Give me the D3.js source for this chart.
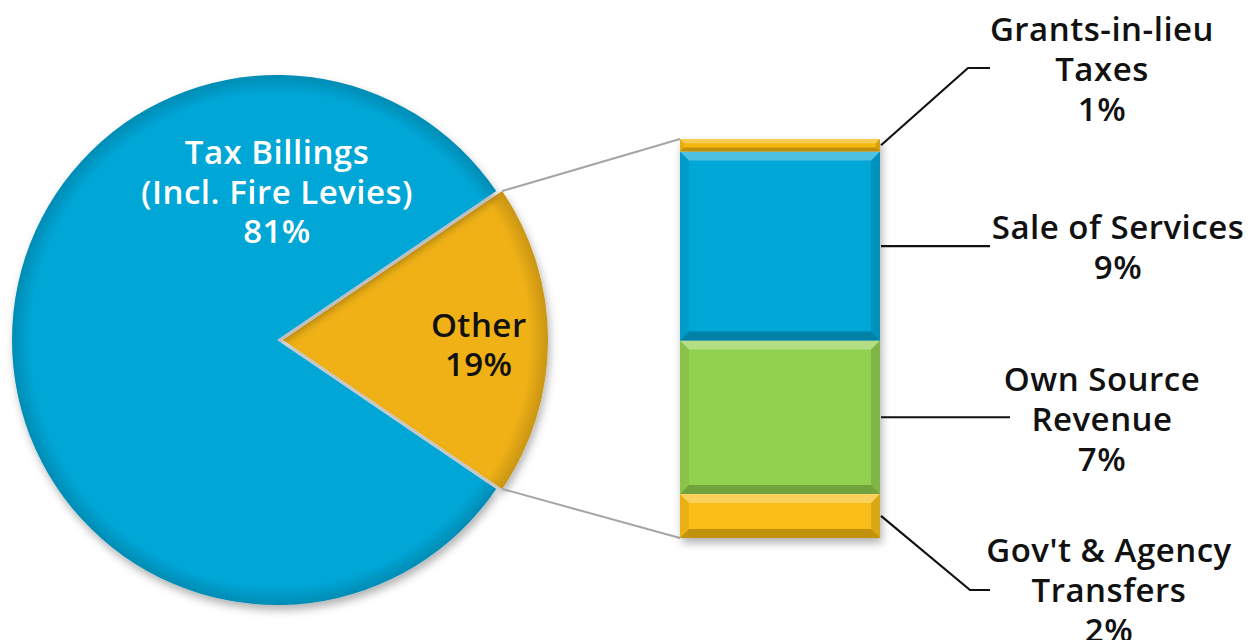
<!DOCTYPE html>
<html>
<head>
<meta charset="utf-8">
<script src="https://cdn.jsdelivr.net/npm/d3@7"></script>
<style>
    body { margin: 0; background: #fff; }
    text { font-family: "Open Sans", "DejaVu Sans", sans-serif; font-weight: 600; font-size: 33px; letter-spacing: 0.5px; }
</style>
</head>
<body>
<script>
// pie: the two top level parts of revenue
var pieNames = ["Other", "Tax Billings"];
var pieValues = [19, 81];
var pieLabels = [["Other", "19%"], ["Tax Billings", "(Incl. Fire Levies)", "81%"]];

// bar: the "Other" part broken down, listed bottom to top
var barNames = ["Gov't & Agency Transfers", "Own Source Revenue", "Sale of Services", "Grants-in-lieu Taxes"];
var barValues = [2.1, 7.3, 9.0, 0.6];
var barLabels = [["Gov't & Agency", "Transfers", "2%"], ["Own Source", "Revenue", "7%"], ["Sale of Services", "9%"], ["Grants-in-lieu", "Taxes", "1%"]];

var pieColors = { "Other": "#efb114", "Tax Billings": "#05a6d6" };
var barColors = ["#f8bd16", "#92d04f", "#05a6d6", "#f5b80f"];

var svg = d3.select("body").append("svg")
    .attr("width", 1256)
    .attr("height", 640);

var defs = svg.append("defs");

var shadow = defs.append("filter").attr("id", "shadow")
    .attr("x", "-10%").attr("y", "-10%").attr("width", "120%").attr("height", "125%");
shadow.append("feDropShadow")
    .attr("dx", 2).attr("dy", 5).attr("stdDeviation", 4)
    .attr("flood-color", "#000").attr("flood-opacity", 0.3);

var r = 265,
    cy = 340,
    cx = 277,
    explode = 6;

var rim = defs.append("radialGradient").attr("id", "rim")
    .attr("cx", 0).attr("cy", 0).attr("r", r)
    .attr("gradientUnits", "userSpaceOnUse");
rim.append("stop").attr("offset", "0.93").attr("stop-color", "#000").attr("stop-opacity", 0);
rim.append("stop").attr("offset", "1").attr("stop-color", "#000").attr("stop-opacity", 0.16);

var otherShare = pieValues[0] / d3.sum(pieValues);
var start = Math.PI / 2 - otherShare * Math.PI;

var pie = d3.pie()
    .sort(null)
    .value(function (d) { return d; })
    .startAngle(start)
    .endAngle(start + 2 * Math.PI);

var arc = d3.arc().innerRadius(0).outerRadius(r);
var labelArc = d3.arc().innerRadius(r * 0.5).outerRadius(r);

var arcs = pie(pieValues);

var slices = svg.append("g")
    .selectAll("g")
    .data(arcs)
    .enter().append("g")
    .attr("transform", function (d, i) {
        return "translate(" + (cx + (i === 0 ? explode : 0)) + "," + cy + ")";
    });

slices.append("path")
    .attr("d", arc)
    .attr("fill", function (d, i) { return pieColors[pieNames[i]]; })
    .attr("filter", "url(#shadow)");

slices.append("path")
    .attr("d", arc)
    .attr("fill", "url(#rim)");

// labels inside the pie
var otherC = labelArc.centroid(arcs[0]);
svg.append("text")
    .attr("x", cx + explode + otherC[0])
    .attr("y", cy + otherC[1] - 3)
    .attr("text-anchor", "middle")
    .attr("fill", "#111")
    .selectAll("tspan")
    .data(pieLabels[0])
    .enter().append("tspan")
    .attr("x", cx + explode + otherC[0] - 3)
    .attr("dy", function (d, i) { return i === 0 ? 0 : 39; })
    .text(function (d) { return d; });

svg.append("text")
    .attr("x", cx)
    .attr("y", 164)
    .attr("text-anchor", "middle")
    .attr("fill", "#fff")
    .selectAll("tspan")
    .data(pieLabels[1])
    .enter().append("tspan")
    .attr("x", cx)
    .attr("dy", function (d, i) { return i === 0 ? 0 : 39.5; })
    .text(function (d) { return d; });

// the stacked bar
var barX = 680, barW = 200;
var y = d3.scaleLinear()
    .domain([0, d3.sum(barValues)])
    .range([538, 139]);

var stacked = [];
var acc = 0;
barValues.forEach(function (v, i) {
    stacked.push({ name: barNames[i], y0: acc, y1: acc + v, i: i });
    acc += v;
});

// gray connector lines from the pie slice corners to the bar
var cornerA = arcs[0].startAngle, cornerB = arcs[0].endAngle;
var connectors = [
    [cx + explode + r * Math.sin(cornerA), cy - r * Math.cos(cornerA), barX, y(acc)],
    [cx + explode + r * Math.sin(cornerB), cy - r * Math.cos(cornerB), barX, y(0)]
];
svg.append("g")
    .selectAll("line")
    .data(connectors)
    .enter().append("line")
    .attr("x1", function (d) { return d[0]; })
    .attr("y1", function (d) { return d[1]; })
    .attr("x2", function (d) { return d[2]; })
    .attr("y2", function (d) { return d[3]; })
    .attr("stroke", "#a6a6a6")
    .attr("stroke-width", 2);

var bar = svg.append("g").attr("filter", "url(#shadow)");
var seg = bar.selectAll("g")
    .data(stacked)
    .enter().append("g");

seg.append("rect")
    .attr("x", barX)
    .attr("width", barW)
    .attr("y", function (d) { return y(d.y1); })
    .attr("height", function (d) { return y(d.y0) - y(d.y1); })
    .attr("fill", function (d) { return barColors[d.i]; });

// bevel: lighter top, darker bottom and sides
function bevel(d, side) {
    var t = y(d.y1), b = y(d.y0), h = b - t;
    var k = Math.min(9, h / 3), l = barX, rr = barX + barW;
    if (side === "top") return [[l, t], [rr, t], [rr - k, t + k], [l + k, t + k]];
    if (side === "bottom") return [[l, b], [rr, b], [rr - k, b - k], [l + k, b - k]];
    if (side === "left") return [[l, t], [l + k, t + k], [l + k, b - k], [l, b]];
    return [[rr, t], [rr - k, t + k], [rr - k, b - k], [rr, b]];
}
var bevels = [["top", "#fff", 0.3], ["bottom", "#000", 0.22], ["left", "#000", 0.06], ["right", "#000", 0.12]];
bevels.forEach(function (bv) {
    seg.append("polygon")
        .attr("points", function (d) { return bevel(d, bv[0]).join(" "); })
        .attr("fill", bv[1])
        .attr("fill-opacity", bv[2]);
});

// leader lines and labels for the bar parts
var leaders = [
    { elbow: [970, 590], end: 990, tx: 1109, ty: 562 },
    { elbow: null, end: 1010, tx: 1102, ty: 391 },
    { elbow: null, end: 990, tx: 1118, ty: 239 },
    { elbow: [968, 68], end: 990, tx: 1102, ty: 41 }
];

var ann = svg.append("g");
stacked.forEach(function (d, i) {
    var L = leaders[i];
    var sy = (y(d.y0) + y(d.y1)) / 2;
    var pts = [[barX + barW + 1, sy]];
    if (L.elbow) {
        pts.push(L.elbow);
        pts.push([L.end, L.elbow[1]]);
    } else {
        pts.push([L.end, sy]);
    }
    ann.append("path")
        .attr("d", d3.line()(pts))
        .attr("fill", "none")
        .attr("stroke", "#111")
        .attr("stroke-width", 2.2);

    ann.append("text")
        .attr("x", L.tx)
        .attr("y", L.ty)
        .attr("text-anchor", "middle")
        .attr("fill", "#111")
        .selectAll("tspan")
        .data(barLabels[i])
        .enter().append("tspan")
        .attr("x", L.tx)
        .attr("dy", function (t, j) { return j === 0 ? 0 : 40; })
        .text(function (t) { return t; });
});
</script>
</body>
</html>
